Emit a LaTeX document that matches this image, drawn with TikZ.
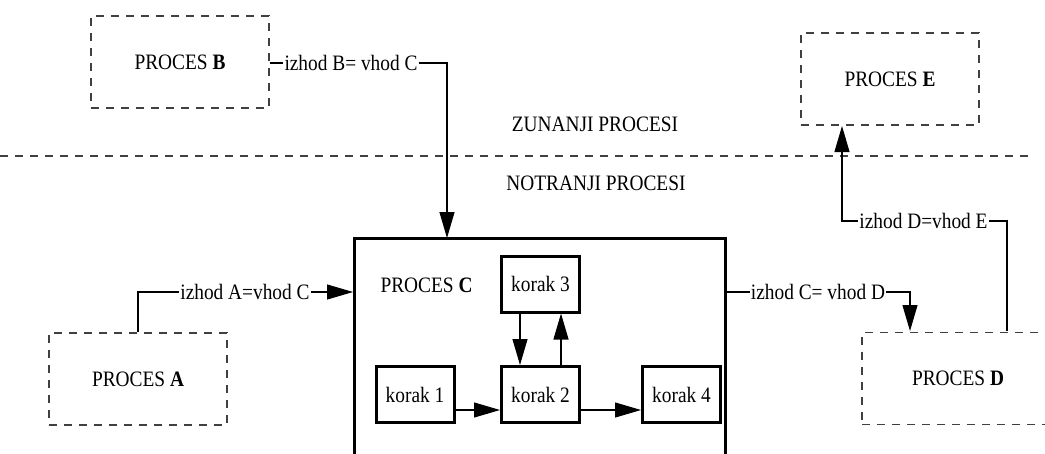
\documentclass[tikz,border=0pt]{standalone}
\usepackage{fontspec}
\setmainfont[FakeStretch=0.88]{Liberation Serif}
\usetikzlibrary{arrows.meta}
\definecolor{dashgray}{HTML}{404040}
\tikzset{
  txt/.style={font=\fontsize{22}{24}\selectfont},
  extproc/.style={draw=dashgray, line width=1.1pt, dash pattern=on 8pt off 7pt,
    minimum width=178pt, minimum height=92pt, inner sep=0pt, txt},
  mainproc/.style={draw, line width=3pt, minimum width=371pt, minimum height=240pt, inner sep=0pt},
  stepbox/.style={draw, line width=3pt, minimum width=78pt, minimum height=56pt, inner sep=0pt, txt},
  flowlabel/.style={inner xsep=1pt, inner ysep=1pt, txt},
  conn/.style={line width=1.1pt},
  arr/.style={conn, -{Triangle[length=26pt,width=15pt]}},
  sep/.style={draw=dashgray, line width=1.1pt, dash pattern=on 8pt off 7pt}
}
\begin{document}
\begin{tikzpicture}[x=1pt, y=-1pt]
  \useasboundingbox (0,0) rectangle (1045,453);
  \clip (0,0) rectangle (1045,453);

  % outer processes
  \node[extproc] (B) at (180,62) {PROCES \textbf{B}};
  \node[extproc] (E) at (890,79) {PROCES \textbf{E}};
  \node[extproc] (A) at (138,379) {PROCES \textbf{A}};
  \node[extproc, minimum width=192pt] (D) at (958,378.5) {PROCES \textbf{D}};

  % boundary between external and internal processes
  \coordinate (sepL) at (0,156);
  \coordinate (sepR) at (1032,156);
  \draw[sep] (sepL) -- (sepR);
  \node[txt] (ext) at (595,124) {ZUNANJI PROCESI};
  \node[txt] (int) at (596,183) {NOTRANJI PROCESI};

  % process C with its steps
  \node[mainproc] (C) at (540,358) {};
  \node[txt, anchor=west] (Clab) at (377,285) {PROCES \textbf{C}};
  \node[stepbox] (k3) at (540.5,284) {korak 3};
  \node[stepbox] (k2) at (540.5,394.5) {korak 2};
  \node[stepbox] (k1) at (415,394.5) {korak 1};
  \node[stepbox] (k4) at (681.5,394.5) {korak 4};

  \draw[arr] ([xshift=-20.5pt]k3.south) -- ([xshift=-20.5pt]k2.north);
  \draw[arr] ([xshift=20.5pt]k2.north) -- ([xshift=20.5pt]k3.south);
  \draw[arr] ([yshift=-15.5pt]k1.east) -- ([yshift=-15.5pt]k2.west);
  \draw[arr] ([yshift=-15.5pt]k2.east) -- ([yshift=-15.5pt]k4.west);

  % flow labels
  \node[flowlabel] (lb) at (351,63) {izhod B= vhod C};
  \node[flowlabel] (la) at (245,292) {izhod A=vhod C};
  \node[flowlabel] (lc) at (818,292) {izhod C= vhod D};
  \node[flowlabel] (le) at (923.5,221) {izhod D=vhod E};

  \coordinate (cIn) at (447,238);
  \coordinate (dIn) at (910,331);
  \coordinate (dOut) at (1007,331);
  \coordinate (eIn) at (842,126);

  % B -> C
  \draw[conn] (B.east |- lb.west) -- (lb.west);
  \draw[arr] (lb.east) -| (cIn);
  % A -> C
  \draw[conn] (A.north) |- (la.west);
  \draw[arr] (la.east) -- (C.west |- la.east);
  % C -> D
  \draw[conn] (C.east |- lc.west) -- (lc.west);
  \draw[arr] (lc.east) -| (dIn);
  % D -> E
  \draw[conn] (dOut) |- (le.east);
  \draw[arr] (le.west) -| (eIn);
\end{tikzpicture}
\end{document}
